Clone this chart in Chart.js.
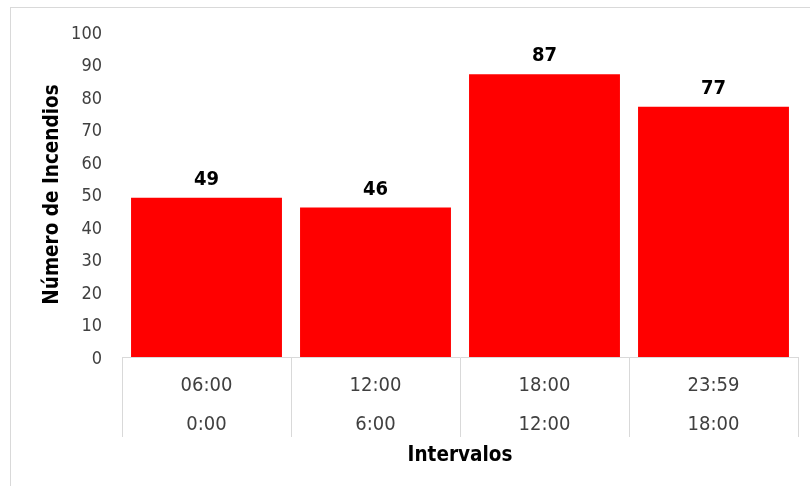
<!DOCTYPE html>
<html>
<head>
<meta charset="utf-8">
<title>Número de Incendios por intervalo</title>
<script src="https://cdn.jsdelivr.net/npm/chart.js@4/dist/chart.umd.min.js"></script>
<style>
  html, body { margin: 0; padding: 0; background: #fff; }
  #wrap { width: 810px; height: 486px; position: relative; }
</style>
</head>
<body>
<div id="wrap"><canvas id="chart"></canvas></div>
<script>
// Two-level interval labels: end of interval over start of interval
const intervalEnds = ['06:00', '12:00', '18:00', '23:59'];
const intervalStarts = ['0:00', '6:00', '12:00', '18:00'];
// Fires recorded in each interval
const fireCounts = [49, 46, 87, 77];
// Value axis range
const yMin = 0;
const yMax = 100;
const yStep = 10;

const FONT = "'DejaVu Sans Condensed', 'DejaVu Sans', sans-serif";
const labels = intervalEnds.map((end, i) => [end, intervalStarts[i]]);

// White background and the light frame around the chart
const framePlugin = {
  id: 'frame',
  beforeDraw(chart) {
    const ctx = chart.ctx;
    ctx.save();
    ctx.fillStyle = '#ffffff';
    ctx.fillRect(0, 0, chart.width, chart.height);
    ctx.strokeStyle = '#d9d9d9';
    ctx.lineWidth = 1;
    ctx.strokeRect(10.5, 7.5, chart.width + 10, chart.height + 10);
    ctx.restore();
  }
};

// Value labels written above each bar
const valueLabelPlugin = {
  id: 'valueLabels',
  afterDatasetsDraw(chart) {
    const ctx = chart.ctx;
    ctx.save();
    ctx.font = 'bold 20px ' + FONT;
    ctx.fillStyle = '#000000';
    ctx.textAlign = 'center';
    ctx.textBaseline = 'alphabetic';
    chart.getDatasetMeta(0).data.forEach((bar, i) => {
      const v = chart.data.datasets[0].data[i];
      ctx.fillText(String(v), bar.x, bar.y - 13);
    });
    ctx.restore();
  }
};

new Chart(document.getElementById('chart'), {
  type: 'bar',
  data: {
    labels: labels,
    datasets: [{
      data: fireCounts,
      backgroundColor: '#ff0000',
      borderWidth: 0,
      categoryPercentage: 1.0,
      barPercentage: 0.893
    }]
  },
  options: {
    responsive: true,
    maintainAspectRatio: false,
    animation: false,
    layout: { padding: { left: 10, right: 12, top: 32, bottom: 0 } },
    plugins: {
      legend: { display: false },
      tooltip: { enabled: false }
    },
    scales: {
      x: {
        grid: {
          display: true,
          offset: true,
          drawOnChartArea: false,
          drawTicks: true,
          tickLength: 80,
          color: '#d9d9d9',
          lineWidth: 1
        },
        border: { display: true, color: '#d9d9d9', width: 1 },
        ticks: {
          color: '#404040',
          font: { family: FONT, size: 20, lineHeight: 1.95 },
          padding: -71,
          maxRotation: 0,
          autoSkip: false
        },
        title: {
          display: true,
          text: 'Intervalos',
          color: '#000000',
          font: { family: FONT, size: 20.5, weight: 'bold', lineHeight: 1 },
          padding: { top: 0, bottom: 20.5 }
        },
        afterFit(scale) { scale.height = 129; }
      },
      y: {
        min: yMin,
        max: yMax,
        grid: { display: false },
        border: { display: false },
        ticks: {
          stepSize: yStep,
          color: '#404040',
          font: { family: FONT, size: 18 },
          padding: 12,
          labelOffset: 2
        },
        title: {
          display: true,
          text: 'Número de Incendios',
          color: '#000000',
          font: { family: FONT, size: 20.5, weight: 'bold', lineHeight: 1.2 },
          padding: { top: 30.5, bottom: 0 }
        },
        afterFit(scale) { scale.width = 112; }
      }
    }
  },
  plugins: [framePlugin, valueLabelPlugin]
});
</script>
</body>
</html>
